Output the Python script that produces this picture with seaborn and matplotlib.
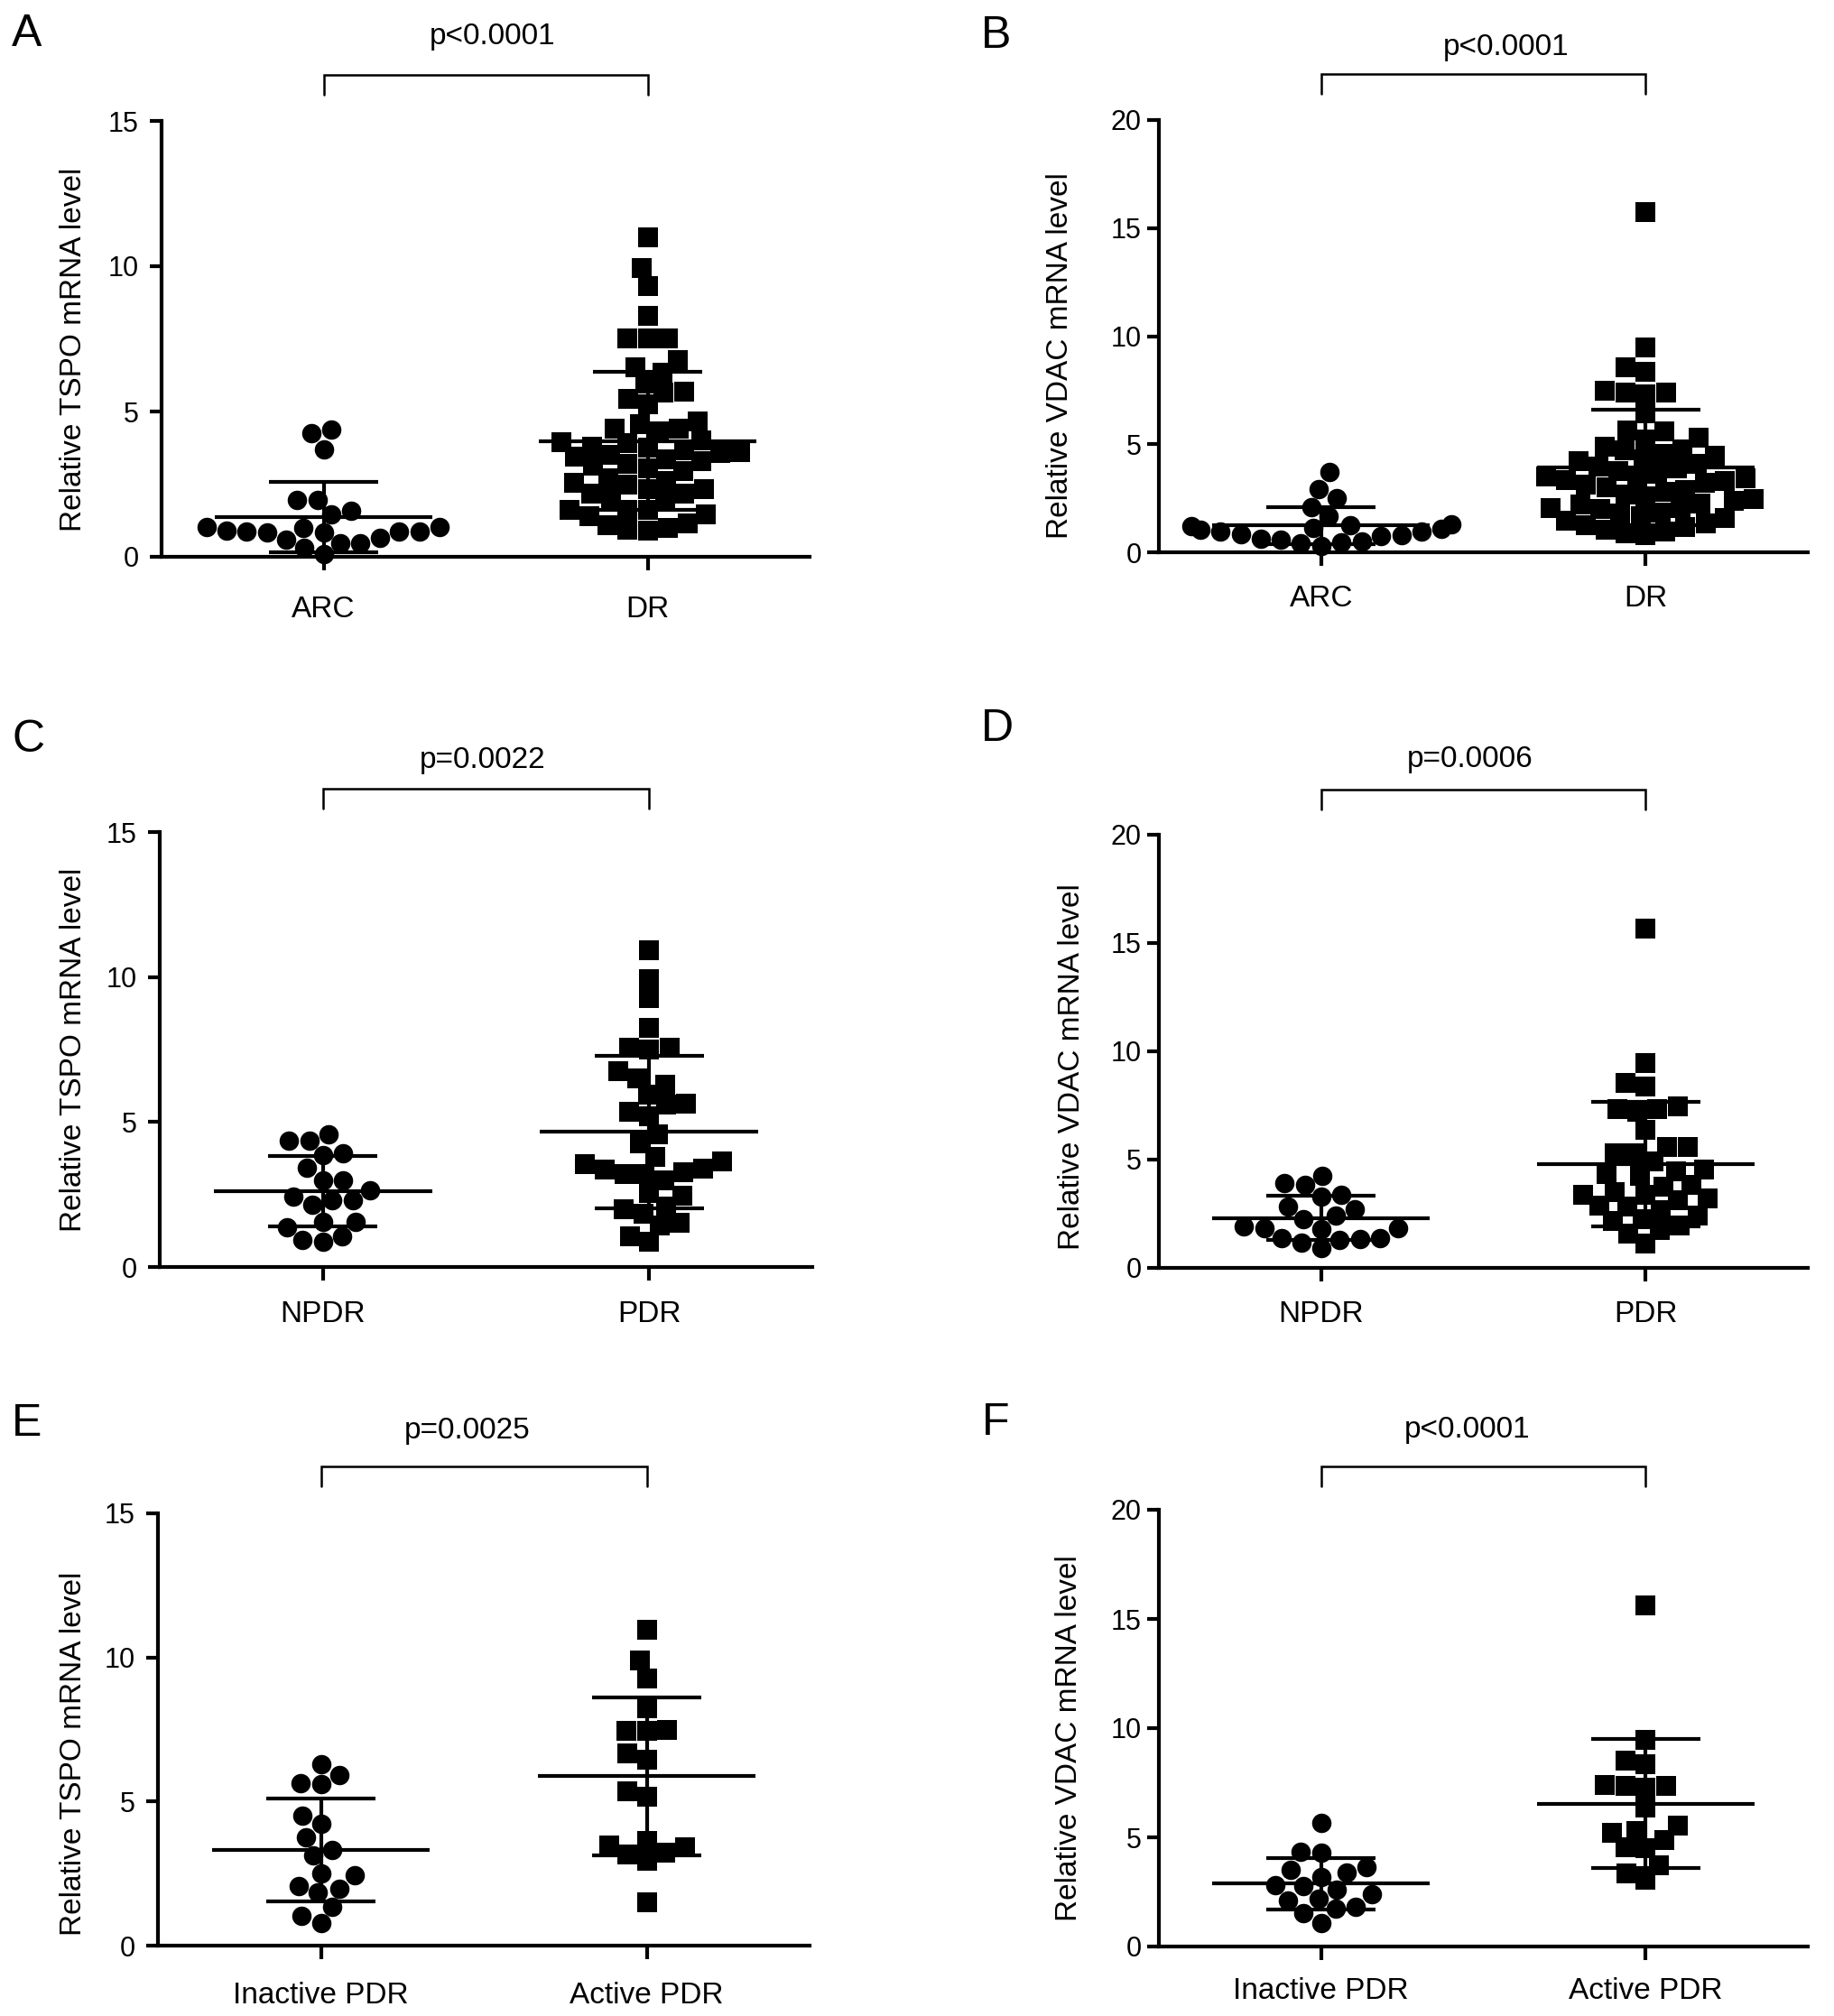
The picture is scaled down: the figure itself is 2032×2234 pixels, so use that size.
import numpy as np
import matplotlib
matplotlib.use("Agg")
import matplotlib.pyplot as plt
import seaborn as sns

sns.set_theme(style="ticks")
plt.rcParams["font.family"] = ["Liberation Sans", "DejaVu Sans"]

# ---------------- data ----------------
A_groups = ["ARC", "DR"]
A_arc = [4.24, 4.38, 3.70, 1.97, 1.97, 1.47, 1.59, 0.88, 0.88, 0.85, 0.85, 0.88,
         0.90, 0.60, 0.66, 1.01, 0.99, 1.01, 0.48, 0.30, 0.48, 0.08]
A_dr = [10.98, 9.95, 9.31, 8.29, 7.52, 7.52, 7.52, 6.53, 6.76, 6.33, 5.96, 5.65,
        5.44, 5.68, 5.24, 4.67, 4.41, 4.31, 4.00, 4.41, 4.57, 3.94, 3.80, 3.66,
        3.57, 3.44, 3.28, 3.13, 2.96, 3.05, 3.20, 3.35, 3.50, 3.60, 3.75, 3.90,
        2.70, 2.49, 2.34, 2.18, 2.03, 1.93, 2.18, 2.34, 2.55, 2.60, 1.61, 1.46,
        1.15, 0.99, 0.89, 0.94, 1.10, 1.41, 1.61, 1.61]

B_groups = ["ARC", "DR"]
B_arc = [3.70, 2.94, 2.52, 2.10, 1.68, 1.25, 1.20, 1.12, 1.05, 0.95, 0.85, 0.75,
         0.62, 0.50, 0.40, 0.30, 0.45, 0.60, 0.80, 0.95, 1.10, 1.28]
B_dr = [15.74, 9.48, 8.57, 8.36, 7.46, 7.39, 7.32, 7.39, 6.42, 5.58, 5.23, 5.30,
        5.65, 4.89,
        4.75, 4.55, 4.32, 4.10, 3.88, 3.65, 3.42, 3.30, 3.50, 3.75, 3.98, 4.22, 4.45, 4.70,
        3.42, 3.20, 3.00, 2.80, 2.60, 2.40, 2.20, 2.05, 2.25, 2.45, 2.68, 2.90, 3.12, 3.35,
        2.03, 1.85, 1.65, 1.45, 1.25, 1.05, 0.88, 0.78, 0.95, 1.15, 1.35, 1.58, 1.80, 2.00]

C_groups = ["NPDR", "PDR"]
C_npdr = [4.36, 4.36, 4.57, 3.93, 3.86, 3.43, 3.00, 3.00, 2.43, 2.29, 2.14, 2.29,
          2.64, 1.57, 1.57, 1.36, 1.07, 0.86, 0.93]
C_pdr = [10.93, 9.93, 9.26, 8.26, 7.57, 7.50, 7.57, 6.74, 6.50, 6.29, 5.93, 5.60,
         5.36, 5.64, 5.21, 4.57, 4.26, 3.79, 3.54, 3.36, 3.21, 3.00, 3.21, 3.26,
         3.40, 3.64, 2.46, 2.54, 2.00, 1.83, 2.07, 1.43, 1.54, 0.86, 1.07]

D_groups = ["NPDR", "PDR"]
D_npdr = [4.24, 3.82, 3.90, 3.38, 3.29, 2.81, 2.71, 2.43, 2.24, 1.85, 1.80, 1.91,
          1.85, 1.38, 1.28, 1.18, 1.32, 1.38, 0.90]
D_pdr = [15.64, 9.44, 8.35, 8.54, 7.34, 7.20, 7.34, 7.45, 6.38, 5.58, 5.29, 5.29,
         5.58, 4.91, 4.47, 4.24, 4.34, 4.53, 3.76, 3.82, 3.38, 3.19, 2.87, 2.67,
         2.43, 2.81, 3.13, 3.38, 3.51, 2.18, 1.76, 1.13, 1.60, 1.95, 2.24]

E_groups = ["Inactive PDR", "Active PDR"]
E_inactive = [6.29, 5.91, 5.60, 5.63, 4.52, 4.23, 3.76, 3.33, 3.13, 2.44, 2.51,
              1.98, 2.08, 1.84, 1.36, 1.03, 0.79]
E_active = [10.95, 9.90, 9.26, 8.25, 7.49, 7.44, 7.46, 6.67, 6.46, 5.17, 5.34,
            3.62, 3.40, 3.16, 2.94, 3.23, 3.47, 1.51]

F_groups = ["Inactive PDR", "Active PDR"]
F_inactive = [5.65, 4.31, 4.34, 3.39, 3.50, 3.64, 2.81, 2.62, 2.78, 3.20, 2.11,
              2.39, 2.20, 1.72, 1.53, 1.82, 1.09]
F_active = [15.64, 9.47, 8.52, 8.33, 7.41, 7.37, 7.27, 7.37, 6.37, 5.55, 5.22,
            5.30, 4.88, 4.54, 4.50, 3.73, 3.35, 3.06]

panel_letters = ["A", "B", "C", "D", "E", "F"]
p_labels = ["p<0.0001", "p<0.0001", "p=0.0022", "p=0.0006", "p=0.0025", "p<0.0001"]
y_labels = ["Relative TSPO mRNA level", "Relative VDAC mRNA level"] * 3
y_max = [15, 20, 15, 20, 15, 20]

# ---------------- layout (pixels in a 2032 x 2234 canvas) ----------------
W, H = 2032, 2234
# left, top (y max), right, bottom (y=0)
boxes = [(179, 134, 897, 617), (1284, 133, 2003, 612),
         (177, 922, 900, 1404), (1284, 924.5, 2003, 1405),
         (175, 1677, 897, 2156), (1284, 1673, 2003, 2157)]
letter_pos = [(13, 51), (1087, 53), (13, 833), (1087, 821), (13, 1591), (1088, 1590)]
bracket_rise = [51, 51, 48, 50, 52, 48]
text_rise = [93, 80, 80, 83, 92, 88]
text_x = [0.52, 0.57, 0.49, 0.46, 0.45, 0.45]
xtick_pad = [20, 15, 16, 15, 18, 14]
ytick_pad = [9, 4.5, 9, 4.5, 9, 4.5]
ylab_x = [-82, -94, -80, -81, -78, -84]
ylab_y = [0.475, 0.454, 0.50, 0.464, 0.444, 0.477]

data = [(A_groups, A_arc, A_dr), (B_groups, B_arc, B_dr),
        (C_groups, C_npdr, C_pdr), (D_groups, D_npdr, D_pdr),
        (E_groups, E_inactive, E_active), (F_groups, F_inactive, F_active)]

LW = 3.0
fig = plt.figure(figsize=(W / 100, H / 100), dpi=100)
fig.patch.set_facecolor("white")

for k in range(6):
    l, t, r, b = boxes[k]
    ax = fig.add_axes([l / W, 1 - b / H, (r - l) / W, (b - t) / H])
    ax.set_facecolor("white")
    groups, g1, g2 = data[k]
    hpx = b - t
    wpx = r - l

    for grp, vals, mk in ((groups[0], g1, "o"), (groups[1], g2, "s")):
        sns.swarmplot(x=[grp] * len(vals), y=vals, order=groups, marker=mk,
                      color="black", size=15.5, linewidth=0, ax=ax, zorder=3,
                      warn_thresh=1.0)

    for i, vals in enumerate((g1, g2)):
        v = np.asarray(vals)
        m, sd = v.mean(), v.std(ddof=1)
        ax.hlines(m, i - 0.335, i + 0.335, color="black", lw=LW, zorder=4,
                  capstyle="butt")
        ax.vlines(i, m - sd, m + sd, color="black", lw=LW, zorder=4)
        ax.hlines([m - sd, m + sd], i - 0.168, i + 0.168, color="black", lw=LW,
                  zorder=4)

    for c in ax.collections:
        c.set_clip_on(False)

    ax.set_xlim(-0.5, 1.5)
    ax.set_ylim(0, y_max[k])
    ax.set_yticks(np.arange(0, y_max[k] + 1, 5))
    ax.set_xlabel("")
    ax.set_ylabel(y_labels[k], fontsize=24, color="black")
    ax.yaxis.set_label_coords(ylab_x[k] / wpx, ylab_y[k])
    for s in ("top", "right"):
        ax.spines[s].set_visible(False)
    for s in ("left", "bottom"):
        ax.spines[s].set_linewidth(LW)
        ax.spines[s].set_color("black")
    ax.tick_params(axis="x", length=10.8, width=LW, labelsize=24,
                   pad=xtick_pad[k], colors="black")
    ax.tick_params(axis="y", length=9.4, width=LW, labelsize=22,
                   pad=ytick_pad[k], colors="black")

    # significance bracket
    tr = ax.get_xaxis_transform()
    yb = 1 + bracket_rise[k] / hpx
    yd = 1 + (bracket_rise[k] - 22) / hpx
    ax.plot([0, 0, 1, 1], [yd, yb, yb, yd], transform=tr, color="black",
            lw=1.8, clip_on=False, solid_joinstyle="miter")
    ax.text(text_x[k], 1 + text_rise[k] / hpx, p_labels[k], transform=tr,
            ha="center", va="center", fontsize=24, color="black")

    lx, ly = letter_pos[k]
    fig.text(lx / W, 1 - ly / H, panel_letters[k], fontsize=36, ha="left",
             va="baseline", color="black")

fig.savefig("out.png", dpi=100, facecolor="white")
